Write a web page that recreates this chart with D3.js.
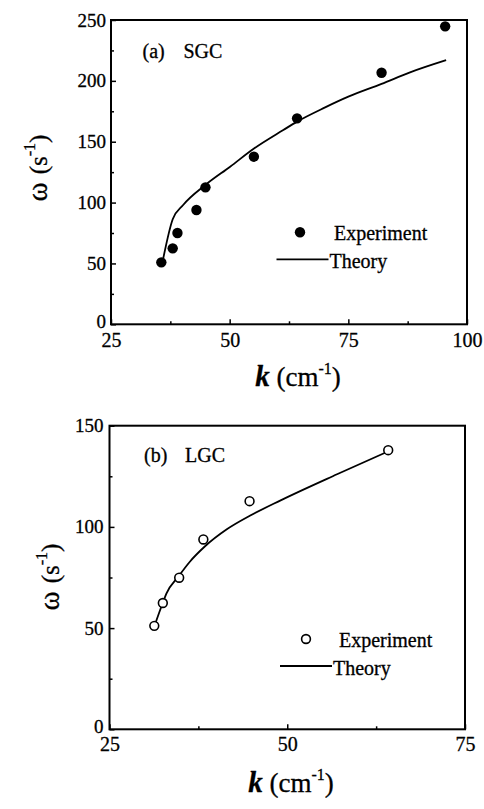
<!DOCTYPE html>
<html>
<head>
<meta charset="utf-8">
<script src="https://cdn.jsdelivr.net/npm/d3@7"></script>
<style>
body { margin: 0; background: #fff; }
svg text { font-family: "Liberation Serif", "Times New Roman", serif; fill: #000; stroke: #000; stroke-width: 0.3px; }
</style>
</head>
<body>
<script>
// Panel (a) SGC
var expKA = [35.6, 38.0, 39.0, 43.0, 44.9, 55.1, 64.2, 82.0, 95.4];
var expWA = [50.9, 62.4, 75.0, 93.9, 112.5, 137.7, 169.2, 206.7, 244.8];
var thKA = [36.0, 38.0, 40.2, 44.8, 50.1, 55.2, 61.3, 64.2, 70.0, 75.0, 82.0, 88.0, 95.6];
var thWA = [54.0, 86.3, 98.0, 114.2, 129.5, 144.6, 159.6, 166.5, 178.0, 187.0, 197.5, 207.0, 217.0];
var xTicksA = [25, 50, 75, 100];
var xMinorA = [37.5, 62.5, 87.5];
var yTicksA = [0, 50, 100, 150, 200, 250];
var yMinorA = [25, 75, 125, 175, 225];

// Panel (b) LGC
var expKB = [31.3, 32.5, 34.8, 38.2, 44.7, 64.2];
var expWB = [51.1, 62.4, 74.9, 93.8, 112.7, 137.9];
var thKB = [31.4, 32.5, 33.0, 34.7, 36.3, 38.4, 41.5, 44.8, 49.0, 57.0, 64.0];
var thWB = [51.8, 62.5, 67.0, 75.5, 82.8, 90.3, 98.8, 105.6, 113.0, 126.0, 137.0];
var xTicksB = [25, 50, 75];
var xMinorB = [37.5, 62.5];
var yTicksB = [0, 50, 100, 150];
var yMinorB = [25, 75, 125];

var w = 484;
var h = 809;

var svg = d3.select("body")
    .append("svg")
    .attr("width", w)
    .attr("height", h);

function drawPanel(p) {
    var x = d3.scaleLinear().domain([p.xTicks[0], p.xTicks[p.xTicks.length - 1]]).range([p.left, p.right]);
    var y = d3.scaleLinear().domain([p.yTicks[0], p.yTicks[p.yTicks.length - 1]]).range([p.bottom, p.top]);

    var g = svg.append("g");

    //minor ticks, pointing inward
    g.append("g")
        .attr("transform", "translate(0," + p.bottom + ")")
        .call(d3.axisBottom(x).tickValues(p.xMinor).tickSize(-3).tickFormat(""))
        .call(a => a.select(".domain").remove());
    g.append("g")
        .attr("transform", "translate(" + p.left + ",0)")
        .call(d3.axisLeft(y).tickValues(p.yMinor).tickSize(-3).tickFormat(""))
        .call(a => a.select(".domain").remove());

    //major ticks with labels
    var xa = g.append("g")
        .attr("transform", "translate(0," + p.bottom + ")")
        .call(d3.axisBottom(x).tickValues(p.xTicks).tickSize(-5).tickPadding(p.xPad).tickFormat(d3.format("d")));
    xa.select(".domain").remove();
    xa.attr("font-family", null).attr("font-size", 20);

    var ya = g.append("g")
        .attr("transform", "translate(" + p.left + ",0)")
        .call(d3.axisLeft(y).tickValues(p.yTicks).tickSize(-5).tickPadding(p.yPad).tickFormat(d3.format("d")));
    ya.select(".domain").remove();
    ya.attr("font-family", null).attr("font-size", 19);
    // the zero label sits just above the corner
    ya.selectAll(".tick text").filter(d => d === 0).attr("dy", "0.15em");

    g.selectAll(".tick line").attr("stroke-width", 1.5);

    //frame
    g.append("rect")
        .attr("x", p.left)
        .attr("y", p.top)
        .attr("width", p.right - p.left)
        .attr("height", p.bottom - p.top)
        .attr("fill", "none")
        .attr("stroke", "#000")
        .attr("stroke-width", 2);

    //theory curve
    var line = d3.line()
        .x(d => x(d[0]))
        .y(d => y(d[1]))
        .curve(d3.curveMonotoneX);
    g.append("path")
        .datum(d3.zip(p.thK, p.thW))
        .attr("d", line)
        .attr("fill", "none")
        .attr("stroke", "#000")
        .attr("stroke-width", 1.8);

    //experiment points
    g.selectAll("circle.exp")
        .data(d3.zip(p.expK, p.expW))
        .enter()
        .append("circle")
        .attr("class", "exp")
        .attr("cx", d => x(d[0]))
        .attr("cy", d => y(d[1]))
        .attr("r", p.filled ? 5.2 : 4.4)
        .attr("fill", p.filled ? "#000" : "#fff")
        .attr("stroke", "#000")
        .attr("stroke-width", p.filled ? 0 : 1.6);

    //panel label
    var lab = g.append("text").attr("y", p.labY).attr("font-size", 20);
    lab.append("tspan").attr("x", p.labX).text(p.tag);
    lab.append("tspan").attr("x", p.labX + 41).text(p.name);

    //legend
    g.append("circle")
        .attr("cx", p.legX)
        .attr("cy", p.legY)
        .attr("r", p.filled ? 5.2 : 4.4)
        .attr("fill", p.filled ? "#000" : "#fff")
        .attr("stroke", "#000")
        .attr("stroke-width", p.filled ? 0 : 1.6);
    g.append("text")
        .attr("x", p.legTextX)
        .attr("y", p.legY + 8)
        .attr("font-size", 20)
        .text("Experiment");
    g.append("line")
        .attr("x1", p.legLineX)
        .attr("x2", p.legLineX + 52)
        .attr("y1", p.legY + 27)
        .attr("y2", p.legY + 27)
        .attr("stroke", "#000")
        .attr("stroke-width", 1.8);
    g.append("text")
        .attr("x", p.legLineX + 53)
        .attr("y", p.legY + 36)
        .attr("font-size", 20)
        .text("Theory");

    //x title
    var xt = g.append("text")
        .attr("x", p.xTitleX)
        .attr("y", p.xTitleY)
        .attr("text-anchor", "middle")
        .attr("font-size", 27);
    xt.append("tspan").attr("font-style", "italic").attr("font-weight", "bold").attr("font-size", 29).text("k");
    xt.append("tspan").text(" (cm");
    xt.append("tspan").attr("font-size", 16).attr("dy", -12).text("-1");
    xt.append("tspan").attr("dy", 12).text(")");

    //y title
    var yt = g.append("text")
        .attr("transform", "translate(" + p.yTitleX + "," + p.yTitleY + ") rotate(-90)")
        .attr("text-anchor", "middle")
        .attr("font-size", 25);
    yt.append("tspan").attr("font-size", 29).text("ω");
    yt.append("tspan").attr("dx", 8).text("(s");
    yt.append("tspan").attr("font-size", 16).attr("dy", -12).text("-1");
    yt.append("tspan").attr("dy", 12).text(")");
}

drawPanel({
    left: 111, right: 467, top: 20, bottom: 324.3,
    xTicks: xTicksA, xMinor: xMinorA, yTicks: yTicksA, yMinor: yMinorA,
    xPad: 9, yPad: 5,
    expK: expKA, expW: expWA, thK: thKA, thW: thWA, filled: true,
    tag: "(a)", name: "SGC", labX: 142.5, labY: 58.3,
    legX: 300, legY: 232.3, legTextX: 334, legLineX: 276.5,
    xTitleX: 298, xTitleY: 386,
    yTitleX: 47, yTitleY: 168
});

drawPanel({
    left: 109.5, right: 465, top: 425.7, bottom: 729.3,
    xTicks: xTicksB, xMinor: xMinorB, yTicks: yTicksB, yMinor: yMinorB,
    xPad: 8, yPad: 6,
    expK: expKB, expW: expWB, thK: thKB, thW: thWB, filled: false,
    tag: "(b)", name: "LGC", labX: 144, labY: 461.7,
    legX: 306, legY: 639, legTextX: 339, legLineX: 280,
    xTitleX: 291, xTitleY: 791.7,
    yTitleX: 59, yTitleY: 577
});
</script>
</body>
</html>
